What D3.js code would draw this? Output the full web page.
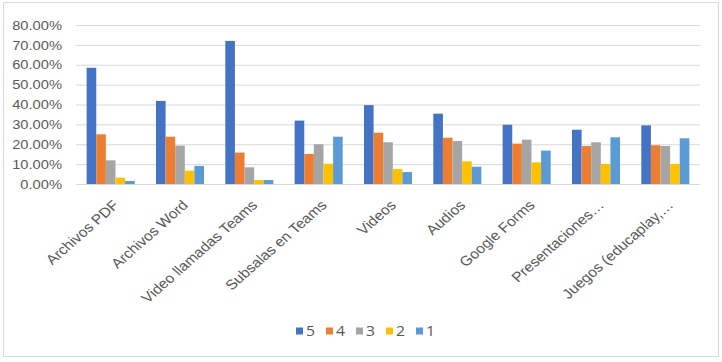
<!DOCTYPE html>
<html>
<head>
<meta charset="utf-8">
<script src="https://cdn.jsdelivr.net/npm/d3@7"></script>
<style>
  body { margin: 0; background: #fff; }
  svg { display: block; font-family: "Open Sans", sans-serif; }
</style>
</head>
<body>
<div class="chart"></div>
<script>
// ----------------------------------
// DATA
// ----------------------------------
const categories = ['Archivos PDF', 'Archivos Word', 'Video llamadas Teams', 'Subsalas en Teams',
  'Videos', 'Audios', 'Google Forms', 'Presentaciones…', 'Juegos (educaplay,…'];
const seriesNames = ['5', '4', '3', '2', '1'];
const s5 = [58.5, 41.8, 72.0, 31.9, 39.7, 35.4, 29.8, 27.3, 29.5];
const s4 = [25.0, 23.8, 15.8, 15.1, 25.8, 23.3, 20.3, 19.1, 19.5];
const s3 = [11.9, 19.3, 8.4, 20.0, 21.0, 21.6, 22.3, 21.0, 19.1];
const s2 = [3.2, 6.7, 2.0, 10.2, 7.5, 11.4, 10.9, 10.1, 10.1];
const s1 = [1.5, 9.1, 2.0, 23.8, 6.0, 8.7, 16.8, 23.5, 23.0];
const yTicks = [0, 10, 20, 30, 40, 50, 60, 70, 80];
const colors = ['#4472C4', '#ED7D31', '#A5A5A5', '#FFC000', '#5B9BD5'];

const seriesValues = [s5, s4, s3, s2, s1];
const data = categories.map((c, i) => ({
  cat: c,
  vals: seriesNames.map((s, j) => ({ key: s, value: seriesValues[j][i] }))
}));

// ----------------------------------
// LAYOUT
// ----------------------------------
const width = 722, height = 362;
const margin = { top: 25, right: 22, bottom: 178, left: 76 };
const innerWidth = width - margin.left - margin.right,
      innerHeight = height - margin.top - margin.bottom;
// the original text looks a bit stretched sideways
const stretch = 1.13;

const svg = d3.select('.chart').append('svg')
  .attr('width', width)
  .attr('height', height);

// chart area border
svg.append('rect')
  .attr('x', 3.5).attr('y', 2.5)
  .attr('width', 715).attr('height', 354)
  .attr('fill', '#fff')
  .attr('stroke', '#d9d9d9');

const chartInner = svg.append('g')
  .attr('transform', `translate(${margin.left},${margin.top})`);

// ----------------------------------
// SCALES
// ----------------------------------
const yScale = d3.scaleLinear().domain([0, 80]).range([innerHeight, 0]);
const x0 = d3.scaleBand().domain(categories).range([0, innerWidth])
  .paddingInner(0.307).paddingOuter(0.1535);
const x1 = d3.scaleBand().domain(seriesNames).range([0, x0.bandwidth()]);
const color = d3.scaleOrdinal().domain(seriesNames).range(colors);

// ----------------------------------
// AXES
// ----------------------------------
const yAxis = d3.axisLeft(yScale)
  .tickValues(yTicks)
  .tickSize(-innerWidth)
  .tickFormat(d => d3.format('.2f')(d) + '%');

const yG = chartInner.append('g').attr('class', 'y axis').call(yAxis);
yG.select('.domain').remove();
yG.selectAll('.tick line').attr('stroke', '#d9d9d9');
yG.selectAll('.tick text')
  .attr('fill', '#595959')
  .style('font-size', '13px')
  .attr('x', 0)
  .attr('transform', `translate(-14,0) scale(${stretch},1)`);

const xAxis = d3.axisBottom(x0).tickSize(0);
const xG = chartInner.append('g')
  .attr('class', 'x axis')
  .attr('transform', `translate(0,${innerHeight})`)
  .call(xAxis);
xG.select('.domain').attr('stroke', '#d9d9d9');
// rotated labels, end of baseline a little right of and below the category centre
xG.selectAll('.tick text')
  .attr('fill', '#595959')
  .style('font-size', '13.8px')
  .attr('text-anchor', 'end')
  .attr('y', 0)
  .attr('dy', 0)
  .attr('transform', `translate(9,22) scale(${stretch},1) rotate(-45)`);

// ----------------------------------
// BARS
// ----------------------------------
chartInner.selectAll('.group')
  .data(data)
  .enter().append('g')
  .attr('class', 'group')
  .attr('transform', d => `translate(${x0(d.cat)},0)`)
  .selectAll('rect')
  .data(d => d.vals)
  .enter().append('rect')
  .attr('x', d => x1(d.key))
  .attr('y', d => yScale(d.value))
  .attr('width', x1.bandwidth())
  .attr('height', d => innerHeight - yScale(d.value))
  .attr('fill', d => color(d.key));

// ----------------------------------
// LEGEND
// ----------------------------------
const legend = svg.append('g').attr('transform', 'translate(296,331)');
const item = legend.selectAll('.item')
  .data(seriesNames)
  .enter().append('g')
  .attr('class', 'item')
  .attr('transform', (d, i) => `translate(${i * 30},0)`);
item.append('rect')
  .attr('x', 0).attr('y', -3.5)
  .attr('width', 7).attr('height', 7)
  .attr('fill', d => color(d));
item.append('text')
  .attr('transform', `translate(10,0) scale(${stretch},1)`)
  .attr('dy', '0.36em')
  .attr('fill', '#595959')
  .style('font-size', '14px')
  .text(d => d);
</script>
</body>
</html>
